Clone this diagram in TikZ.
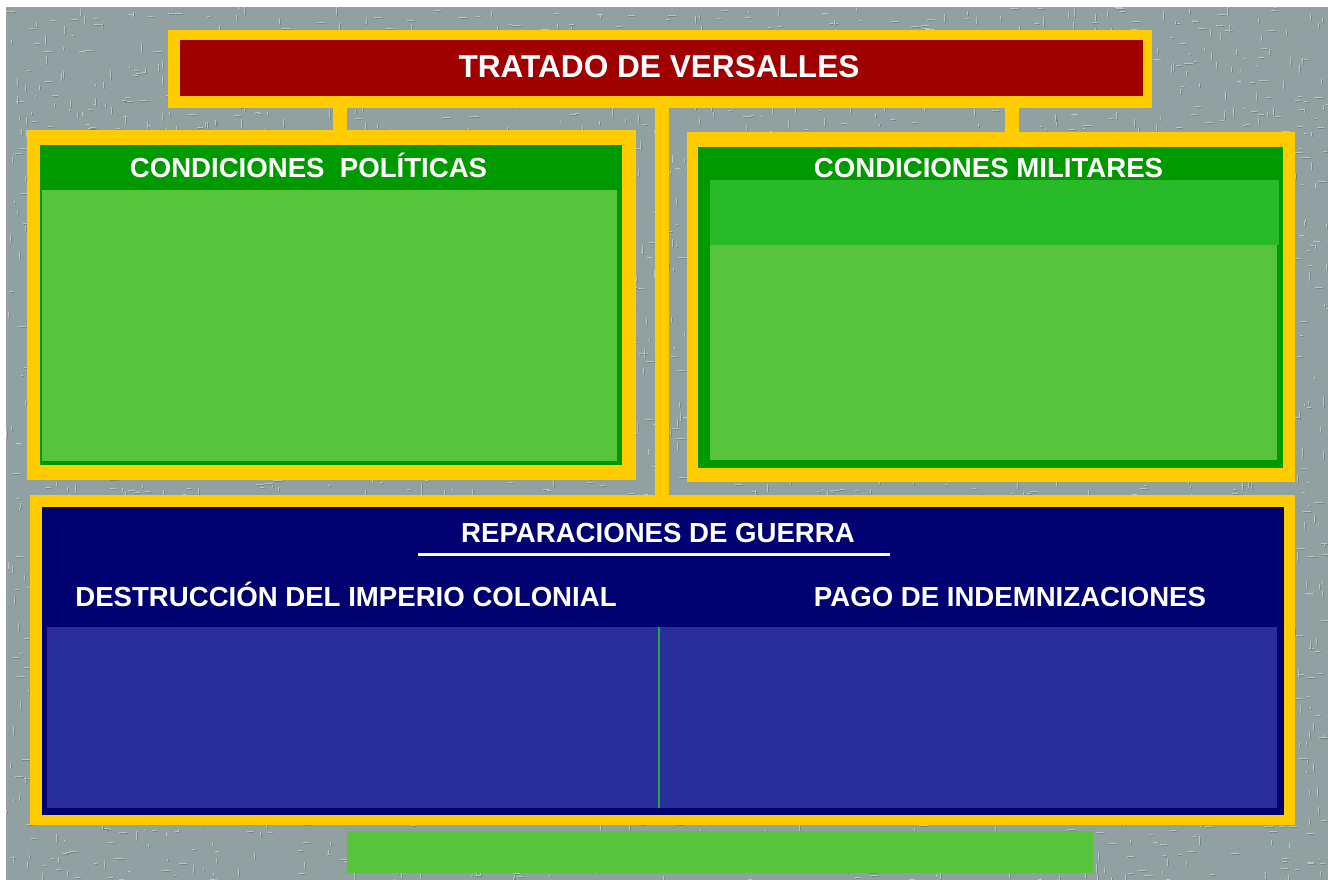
\documentclass[tikz,border=0pt]{standalone}
\usepackage{fontspec}
\setmainfont{Liberation Sans}
\definecolor{bggray}{HTML}{91A1A1}
\definecolor{texlight}{HTML}{BAC7C7}
\definecolor{texdark}{HTML}{758686}
\definecolor{gold}{HTML}{FFCC00}
\definecolor{titlered}{HTML}{A00000}
\definecolor{darkgreen}{HTML}{009A00}
\definecolor{midgreen}{HTML}{28BA28}
\definecolor{lightgreen}{HTML}{57C43C}
\definecolor{navy}{HTML}{000070}
\definecolor{paneblue}{HTML}{2A2E9B}
\definecolor{divgreen}{HTML}{22A844}
\tikzset{
  panel/.style={inner sep=0pt, outer sep=0pt, draw=none},
  goldbox/.style={panel, fill=gold},
  conn/.style={draw=gold, line width=14pt},
  label/.style={text=white, inner sep=0pt, anchor=base, font=\bfseries\fontsize{#1}{#1}\selectfont},
}
\begin{document}
\begin{tikzpicture}[x=1pt,y=-1pt]
\useasboundingbox (0,0) rectangle (1328,880);
\fill[white] (0,0) rectangle (1328,880);
\fill[bggray] (6,7) rectangle (1328,880);
% background texture (stucco)
\pgfmathsetseed{4711}
\begin{scope}
\clip (6,7) rectangle (1328,880);
\foreach \i in {1,...,4200}{
  \pgfmathsetmacro\xx{6+rnd*1322}
  \pgfmathsetmacro\yy{7+rnd*873}
  \pgfmathsetmacro\ll{2+rnd*7}
  \pgfmathsetmacro\dd{rnd}
  \ifdim\dd pt<0.5pt
    \draw[texdark, line width=0.8pt] (\xx+0.9,\yy+0.9) -- ++(\ll,0);
    \draw[texlight, line width=0.9pt] (\xx,\yy) -- ++(\ll,0);
  \else
    \draw[texdark, line width=0.8pt] (\xx+0.9,\yy+0.9) -- ++(0,\ll);
    \draw[texlight, line width=0.9pt] (\xx,\yy) -- ++(0,\ll);
  \fi
}
\end{scope}

\coordinate (cL) at (340,100);
\coordinate (cM) at (662,100);
\coordinate (cR) at (1012,100);

% title
\node[goldbox, minimum width=984, minimum height=78] (title) at (660,69) {};
\node[panel, fill=titlered, minimum width=963, minimum height=56] (titlein) at (661.5,68) {};
\node[label=31.6] (titletext) at (659,78) {TRATADO DE VERSALLES};

% left box
\node[goldbox, minimum width=609, minimum height=350] (left) at (331.5,305) {};
\node[panel, fill=darkgreen, minimum width=582, minimum height=320] (lefthead) at (331,305) {};
\node[panel, fill=lightgreen, minimum width=575, minimum height=271] (leftbody) at (329.5,325.5) {};
\node[label=27.6] (lefttext) at (308.5,178) {CONDICIONES\ \ POLÍTICAS};

% right box
\node[goldbox, minimum width=608, minimum height=350] (right) at (991,307) {};
\node[panel, fill=darkgreen, minimum width=585, minimum height=321] (righthead) at (990.5,307.5) {};
\node[panel, fill=midgreen, minimum width=569, minimum height=65] (rightband) at (994.5,212.5) {};
\node[panel, fill=lightgreen, minimum width=567, minimum height=215] (rightbody) at (993.5,352.5) {};
\node[label=27.6] (righttext) at (988.5,178) {CONDICIONES MILITARES};

% bottom box
\node[goldbox, minimum width=1265, minimum height=330] (bottom) at (662.5,660) {};
\node[panel, fill=navy, minimum width=1242, minimum height=308] (bottomin) at (663,661) {};
\node[panel, fill=paneblue, minimum width=1230, minimum height=181] (bottombody) at (662,717.5) {};
\coordinate (divtop) at (659,627);
\coordinate (divbot) at (659,808);
\draw[draw=divgreen, line width=1.4pt] (divtop) -- (divbot);
\node[label=27.6] (reptext) at (658,542) {REPARACIONES DE GUERRA};
\coordinate (ulL) at (418,554);
\coordinate (ulR) at (890,554);
\draw[white, line width=3pt] (ulL) -- (ulR);
\node[label=27.6] (coltext) at (346,606) {DESTRUCCIÓN DEL IMPERIO COLONIAL};
\node[label=27.6] (paytext) at (1010,606) {PAGO DE INDEMNIZACIONES};

% bottom green bar
\node[panel, fill=lightgreen, minimum width=746, minimum height=42] (bar) at (720,852) {};

% connectors
\draw[conn] (title.south -| cL) -- (left.north -| cL);
\draw[conn] (title.south -| cR) -- (right.north -| cR);
\draw[conn] (title.south -| cM) -- (bottom.north -| cM);
\end{tikzpicture}
\end{document}
